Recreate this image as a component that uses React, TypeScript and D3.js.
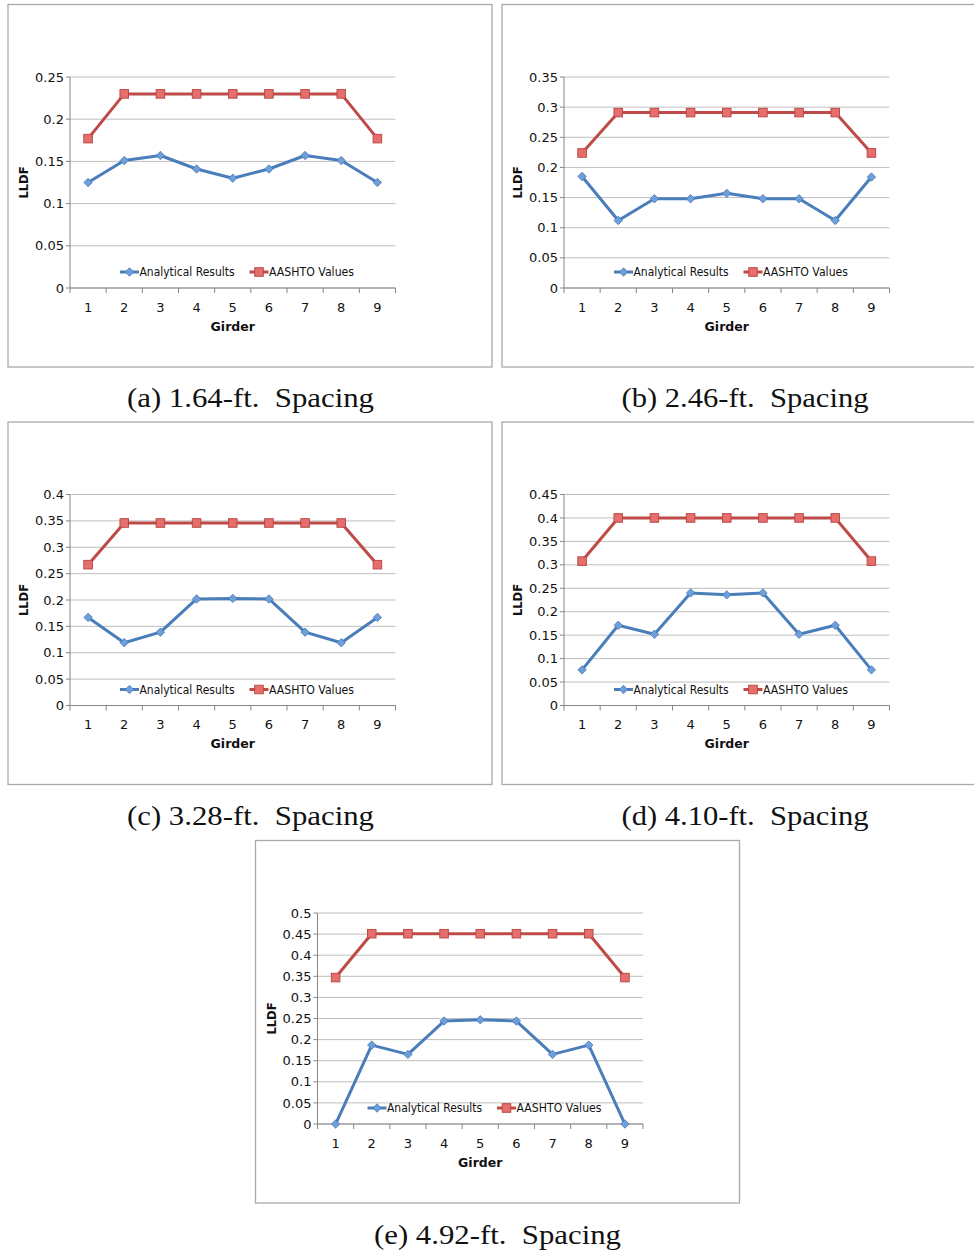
import React from "react";
import * as d3 from "d3";

const girders = ["1", "2", "3", "4", "5", "6", "7", "8", "9"];

const analyticalA = [0.125, 0.151, 0.157, 0.141, 0.130, 0.141, 0.157, 0.151, 0.125];
const aashtoA = [0.177, 0.230, 0.230, 0.230, 0.230, 0.230, 0.230, 0.230, 0.177];
const ticksA = [0, 0.05, 0.1, 0.15, 0.2, 0.25];

const analyticalB = [0.185, 0.112, 0.148, 0.148, 0.157, 0.148, 0.148, 0.112, 0.184];
const aashtoB = [0.224, 0.291, 0.291, 0.291, 0.291, 0.291, 0.291, 0.291, 0.224];
const ticksB = [0, 0.05, 0.1, 0.15, 0.2, 0.25, 0.3, 0.35];

const analyticalC = [0.167, 0.119, 0.139, 0.202, 0.203, 0.202, 0.139, 0.119, 0.167];
const aashtoC = [0.267, 0.346, 0.346, 0.346, 0.346, 0.346, 0.346, 0.346, 0.267];
const ticksC = [0, 0.05, 0.1, 0.15, 0.2, 0.25, 0.3, 0.35, 0.4];

const analyticalD = [0.076, 0.171, 0.152, 0.240, 0.236, 0.240, 0.152, 0.171, 0.076];
const aashtoD = [0.308, 0.400, 0.400, 0.400, 0.400, 0.400, 0.400, 0.400, 0.308];
const ticksD = [0, 0.05, 0.1, 0.15, 0.2, 0.25, 0.3, 0.35, 0.4, 0.45];

const analyticalE = [0.0, 0.187, 0.165, 0.244, 0.247, 0.244, 0.165, 0.187, 0.0];
const aashtoE = [0.347, 0.451, 0.451, 0.451, 0.451, 0.451, 0.451, 0.451, 0.347];
const ticksE = [0, 0.05, 0.1, 0.15, 0.2, 0.25, 0.3, 0.35, 0.4, 0.45, 0.5];

const captions = [
  "(a) 1.64-ft.  Spacing",
  "(b) 2.46-ft.  Spacing",
  "(c) 3.28-ft.  Spacing",
  "(d) 4.10-ft.  Spacing",
  "(e) 4.92-ft.  Spacing",
];

const BLUE = "#4A7EBB";
const RED = "#BE4B48";
const FONT = "'DejaVu Sans', sans-serif";

type PanelProps = {
  bx: number;
  by: number;
  ticks: number[];
  analytical: number[];
  aashto: number[];
  caption: string;
  capX: number;
  capY: number;
};

function Diamond({ x, y }: { x: number; y: number }) {
  const s = 4.2;
  return (
    <path
      d={`M${x},${y - s}L${x + s},${y}L${x},${y + s}L${x - s},${y}Z`}
      fill="#6F9FDA"
      stroke="#4677B6"
      strokeWidth={0.8}
    />
  );
}

function Square({ x, y }: { x: number; y: number }) {
  const s = 4.3;
  return (
    <rect
      x={x - s}
      y={y - s}
      width={2 * s}
      height={2 * s}
      fill="#E46F6C"
      stroke="#B8423F"
      strokeWidth={0.9}
    />
  );
}

function Panel({ bx, by, ticks, analytical, aashto, caption, capX, capY }: PanelProps) {
  const left = bx + 62;
  const top = by + 72.5;
  const w = 325.5;
  const h = 211;
  const bottom = top + h;
  const x = d3.scaleBand<string>().domain(girders).range([left, left + w]).padding(0);
  const y = d3.scaleLinear().domain([0, ticks[ticks.length - 1]]).range([bottom, top]);
  const cx = (g: string) => (x(g) as number) + x.bandwidth() / 2;
  const line = d3
    .line<number>()
    .x((_, i) => cx(girders[i]))
    .y((v) => y(v));
  const bounds = girders.map((g) => x(g) as number).concat([left + w]);
  const fmt = (v: number) => String(+v.toFixed(2));
  return (
    <g>
      <rect x={bx} y={by} width={484} height={362.5} fill="#fff" stroke="#A9A9A9" strokeWidth={1.3} />
      {ticks.map((t) => (
        <line key={"g" + t} x1={left} x2={left + w} y1={y(t)} y2={y(t)} stroke="#BFBFBF" strokeWidth={1} />
      ))}
      {ticks.map((t) => (
        <line key={"yt" + t} x1={left - 4} x2={left} y1={y(t)} y2={y(t)} stroke="#878787" strokeWidth={1} />
      ))}
      {ticks.map((t) => (
        <text
          key={"yl" + t}
          x={left - 6}
          y={y(t) + 4.6}
          textAnchor="end"
          fontFamily={FONT}
          fontSize={13}
          fill="#111"
        >
          {fmt(t)}
        </text>
      ))}
      <line x1={left} x2={left} y1={top} y2={bottom} stroke="#878787" strokeWidth={1} />
      <line x1={left} x2={left + w} y1={bottom} y2={bottom} stroke="#878787" strokeWidth={1} />
      {bounds.map((b, i) => (
        <line key={"xt" + i} x1={b} x2={b} y1={bottom} y2={bottom + 5} stroke="#878787" strokeWidth={1} />
      ))}
      {girders.map((g) => (
        <text key={"xl" + g} x={cx(g)} y={bottom + 23.5} textAnchor="middle" fontFamily={FONT} fontSize={13} fill="#111">
          {g}
        </text>
      ))}
      <text x={left + w / 2} y={bottom + 42.5} textAnchor="middle" fontFamily={FONT} fontSize={12.5} fontWeight="bold" fill="#111">
        Girder
      </text>
      <text
        transform={`translate(${left - 42},${top + h / 2}) rotate(-90)`}
        textAnchor="middle"
        fontFamily={FONT}
        fontSize={11.5}
        fontWeight="bold"
        fill="#111"
      >
        LLDF
      </text>
      <path d={line(aashto) || ""} fill="none" stroke={RED} strokeWidth={3} strokeLinejoin="round" />
      <path d={line(analytical) || ""} fill="none" stroke={BLUE} strokeWidth={3} strokeLinejoin="round" />
      {aashto.map((v, i) => (
        <Square key={"s" + i} x={cx(girders[i])} y={y(v)} />
      ))}
      {analytical.map((v, i) => (
        <Diamond key={"d" + i} x={cx(girders[i])} y={y(v)} />
      ))}
      {/* legend */}
      <line x1={left + 50} x2={left + 69} y1={bottom - 16} y2={bottom - 16} stroke={BLUE} strokeWidth={3} />
      <Diamond x={left + 59.5} y={bottom - 16} />
      <text x={left + 69.5} y={bottom - 11.8} fontFamily={FONT} fontSize={12} textLength={95} lengthAdjust="spacingAndGlyphs" fill="#111">
        Analytical Results
      </text>
      <line x1={left + 179.5} x2={left + 198.5} y1={bottom - 16} y2={bottom - 16} stroke={RED} strokeWidth={3} />
      <Square x={left + 189} y={bottom - 16} />
      <text x={left + 199} y={bottom - 11.8} fontFamily={FONT} fontSize={12} textLength={85} lengthAdjust="spacingAndGlyphs" fill="#111">
        AASHTO Values
      </text>
      <text
        x={capX}
        y={capY}
        textAnchor="middle"
        fontFamily="'Liberation Serif', serif"
        fontSize={28}
        textLength={247}
        lengthAdjust="spacingAndGlyphs"
        fill="#111"
        style={{ whiteSpace: "pre" }}
      >
        {caption}
      </text>
    </g>
  );
}

export default function App() {
  return (
    <svg
      width={974}
      height={1251}
      style={{ position: "absolute", left: 0, top: 0, background: "#fff" }}
    >
      <rect x={0} y={0} width={974} height={1251} fill="#fff" />
      <Panel bx={8} by={4.5} ticks={ticksA} analytical={analyticalA} aashto={aashtoA} caption={captions[0]} capX={250.5} capY={407} />
      <Panel bx={502} by={4.5} ticks={ticksB} analytical={analyticalB} aashto={aashtoB} caption={captions[1]} capX={745} capY={407} />
      <Panel bx={8} by={422} ticks={ticksC} analytical={analyticalC} aashto={aashtoC} caption={captions[2]} capX={250.5} capY={825} />
      <Panel bx={502} by={422} ticks={ticksD} analytical={analyticalD} aashto={aashtoD} caption={captions[3]} capX={745} capY={825} />
      <Panel bx={255.5} by={840.5} ticks={ticksE} analytical={analyticalE} aashto={aashtoE} caption={captions[4]} capX={497.5} capY={1244} />
    </svg>
  );
}
